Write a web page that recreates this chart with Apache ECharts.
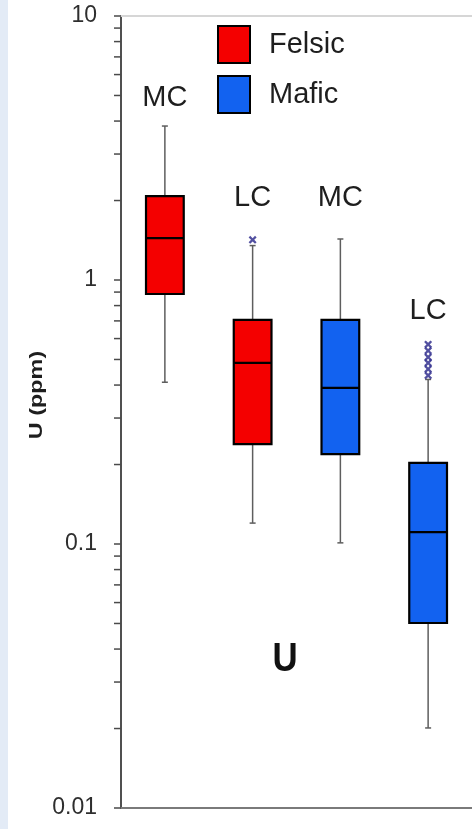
<!DOCTYPE html>
<html>
<head>
<meta charset="utf-8">
<script src="https://cdn.jsdelivr.net/npm/echarts@6/dist/echarts.min.js"></script>
<style>
  html, body { margin: 0; padding: 0; background: #ffffff; }
  #chart { width: 472px; height: 829px; }
</style>
</head>
<body>
<div id="chart"></div>
<script>
// Uranium content (ppm) of felsic and mafic rocks, middle crust (MC) and lower crust (LC)
const groups = ['Felsic MC', 'Felsic LC', 'Mafic MC', 'Mafic LC'];
const crustLabels = ['MC', 'LC', 'MC', 'LC'];

// five-number summaries: [min, Q1, median, Q3, max]
const felsicMC = [0.41, 0.885, 1.44, 2.08, 3.83];
const felsicLC = [0.12, 0.239, 0.485, 0.706, 1.35];
const maficMC = [0.101, 0.219, 0.39, 0.706, 1.43];
const maficLC = [0.0201, 0.0502, 0.111, 0.203, 0.42];

// outliers beyond the whiskers
const felsicLCOutliers = [1.42];
const maficLCOutliers = [0.57, 0.54, 0.51, 0.485, 0.46, 0.435];

const yTickLabels = ['0.01', '0.1', '1', '10'];

// ---- drawing setup ----
const FONT = '"Liberation Sans", Arial, Helvetica, sans-serif';
const RED = '#f40000';
const BLUE = '#1262f0';
const labelLift = [28, 42, 41, 33];   // px gap between the topmost mark and the MC/LC label

function topOf(summary, outliers) {
  return Math.max(summary[4], ...(outliers || []));
}
function boxItem(idx, s, outliers) {
  return [idx, s[0], s[1], s[2], s[3], s[4], topOf(s, outliers)];
}

// log-axis minor ticks at 2..9 within each decade
const minorTicks = [];
[0.01, 0.1, 1].forEach(function (d) {
  for (let m = 2; m <= 9; m++) minorTicks.push([0, +(m * d).toPrecision(3)]);
});

function renderBox(params, api) {
  const x = api.value(0);
  const lo = api.coord([x, api.value(1)]);
  const q1 = api.coord([x, api.value(2)]);
  const med = api.coord([x, api.value(3)]);
  const q3 = api.coord([x, api.value(4)]);
  const hi = api.coord([x, api.value(5)]);
  const top = api.coord([x, api.value(6)]);
  const band = api.size([1, 1])[0];
  const bw = band * 0.43;
  const cx = lo[0];
  const cap = 3;
  const color = api.visual('color');
  const whisker = { stroke: '#5e5e5e', lineWidth: 1.5 };
  return {
    type: 'group',
    children: [
      { type: 'line', shape: { x1: cx, y1: q3[1], x2: cx, y2: hi[1] }, style: whisker },
      { type: 'line', shape: { x1: cx, y1: q1[1], x2: cx, y2: lo[1] }, style: whisker },
      { type: 'line', shape: { x1: cx - cap, y1: hi[1], x2: cx + cap, y2: hi[1] }, style: whisker },
      { type: 'line', shape: { x1: cx - cap, y1: lo[1], x2: cx + cap, y2: lo[1] }, style: whisker },
      {
        type: 'rect',
        shape: { x: cx - bw / 2, y: q3[1], width: bw, height: q1[1] - q3[1] },
        style: { fill: color, stroke: '#000', lineWidth: 2.2 }
      },
      {
        type: 'line',
        shape: { x1: cx - bw / 2, y1: med[1], x2: cx + bw / 2, y2: med[1] },
        style: { stroke: '#000', lineWidth: 2.2 }
      },
      {
        type: 'text',
        x: cx,
        y: top[1] - labelLift[x],
        style: {
          text: crustLabels[x],
          fill: '#1e1e1e',
          font: '29px ' + FONT,
          align: 'center',
          verticalAlign: 'middle'
        }
      }
    ]
  };
}

function renderMinorTick(params, api) {
  const p = api.coord([0, api.value(1)]);
  const left = params.coordSys.x;
  return {
    type: 'line',
    shape: { x1: left - 7, y1: p[1], x2: left, y2: p[1] },
    style: { stroke: '#4a4a4a', lineWidth: 1.5 }
  };
}

// filled "x" marker with thick arms
const crossSymbol = 'path://M0,2L2,0L5,3L8,0L10,2L7,5L10,8L8,10L5,7L2,10L0,8L3,5Z';

const outlierData = []
  .concat(felsicLCOutliers.map(function (v) { return [1, v]; }))
  .concat(maficLCOutliers.map(function (v) { return [3, v]; }));

const chart = echarts.init(document.getElementById('chart'), null, { renderer: 'canvas' });

chart.setOption({
  backgroundColor: '#ffffff',
  animation: false,
  grid: { left: 121, top: 16, right: -5, bottom: 21, containLabel: false },
  legend: {
    data: ['Felsic', 'Mafic'],
    orient: 'vertical',
    left: 217,
    top: 25,
    padding: 0,
    itemWidth: 32,
    itemHeight: 37,
    itemGap: 11,
    icon: 'rect',
    itemStyle: { borderColor: '#000', borderWidth: 2 },
    textStyle: { fontFamily: FONT, fontSize: 29, color: '#1e1e1e', padding: [0, 0, 0, 14] },
    selectedMode: false
  },
  xAxis: [
    {
      type: 'category',
      data: groups,
      position: 'bottom',
      axisLine: { show: true, lineStyle: { color: '#7a7a7a', width: 2 } },
      axisTick: { show: false },
      axisLabel: { show: false },
      splitLine: { show: false }
    },
    {
      type: 'category',
      data: groups,
      position: 'top',
      axisLine: { show: true, lineStyle: { color: '#d6d6d6', width: 2 } },
      axisTick: { show: false },
      axisLabel: { show: false },
      splitLine: { show: false }
    }
  ],
  yAxis: {
    type: 'log',
    logBase: 10,
    min: 0.01,
    max: 10,
    axisLine: { show: true, lineStyle: { color: '#505050', width: 2 } },
    axisTick: { show: true, length: 7, lineStyle: { color: '#4a4a4a', width: 1.5 } },
    axisLabel: {
      margin: 24,
      fontFamily: FONT,
      fontSize: 23,
      color: '#2e2e2e',
      formatter: function (v) {
        const i = Math.round(Math.log10(v)) + 2;
        return yTickLabels[i] !== undefined ? yTickLabels[i] : '';
      }
    },
    splitLine: { show: false },
    minorTick: { show: false }
  },
  series: [
    {
      name: 'Felsic',
      type: 'custom',
      renderItem: renderBox,
      itemStyle: { color: RED, borderColor: '#000', borderWidth: 2 },
      encode: { x: 0, y: [1, 2, 3, 4, 5] },
      data: [boxItem(0, felsicMC), boxItem(1, felsicLC, felsicLCOutliers)],
      z: 3
    },
    {
      name: 'Mafic',
      type: 'custom',
      renderItem: renderBox,
      itemStyle: { color: BLUE, borderColor: '#000', borderWidth: 2 },
      encode: { x: 0, y: [1, 2, 3, 4, 5] },
      data: [boxItem(2, maficMC), boxItem(3, maficLC, maficLCOutliers)],
      z: 3
    },
    {
      name: 'Outliers',
      type: 'scatter',
      symbol: crossSymbol,
      symbolSize: 8,
      itemStyle: { color: '#34318f', opacity: 0.85 },
      data: outlierData,
      z: 4
    },
    {
      name: 'minor ticks',
      type: 'custom',
      renderItem: renderMinorTick,
      encode: { x: 0, y: 1 },
      data: minorTicks,
      silent: true,
      clip: false,
      z: 2
    }
  ],
  graphic: [
    {
      type: 'rect',
      left: 0,
      top: 0,
      shape: { width: 8, height: 829 },
      style: { fill: '#e3ebf6' },
      silent: true
    },
    {
      type: 'text',
      x: 37,
      y: 395,
      rotation: Math.PI / 2,
      scaleX: 1.3,
      style: {
        text: 'U (ppm)',
        font: 'bold 18px ' + FONT,
        fill: '#1e1e1e',
        align: 'center',
        verticalAlign: 'middle'
      },
      silent: true
    },
    {
      type: 'text',
      x: 285,
      y: 660,
      scaleX: 0.85,
      style: {
        text: 'U',
        font: 'bold 41px ' + FONT,
        fill: '#111111',
        align: 'center',
        verticalAlign: 'middle'
      },
      silent: true
    }
  ]
});
</script>
</body>
</html>
